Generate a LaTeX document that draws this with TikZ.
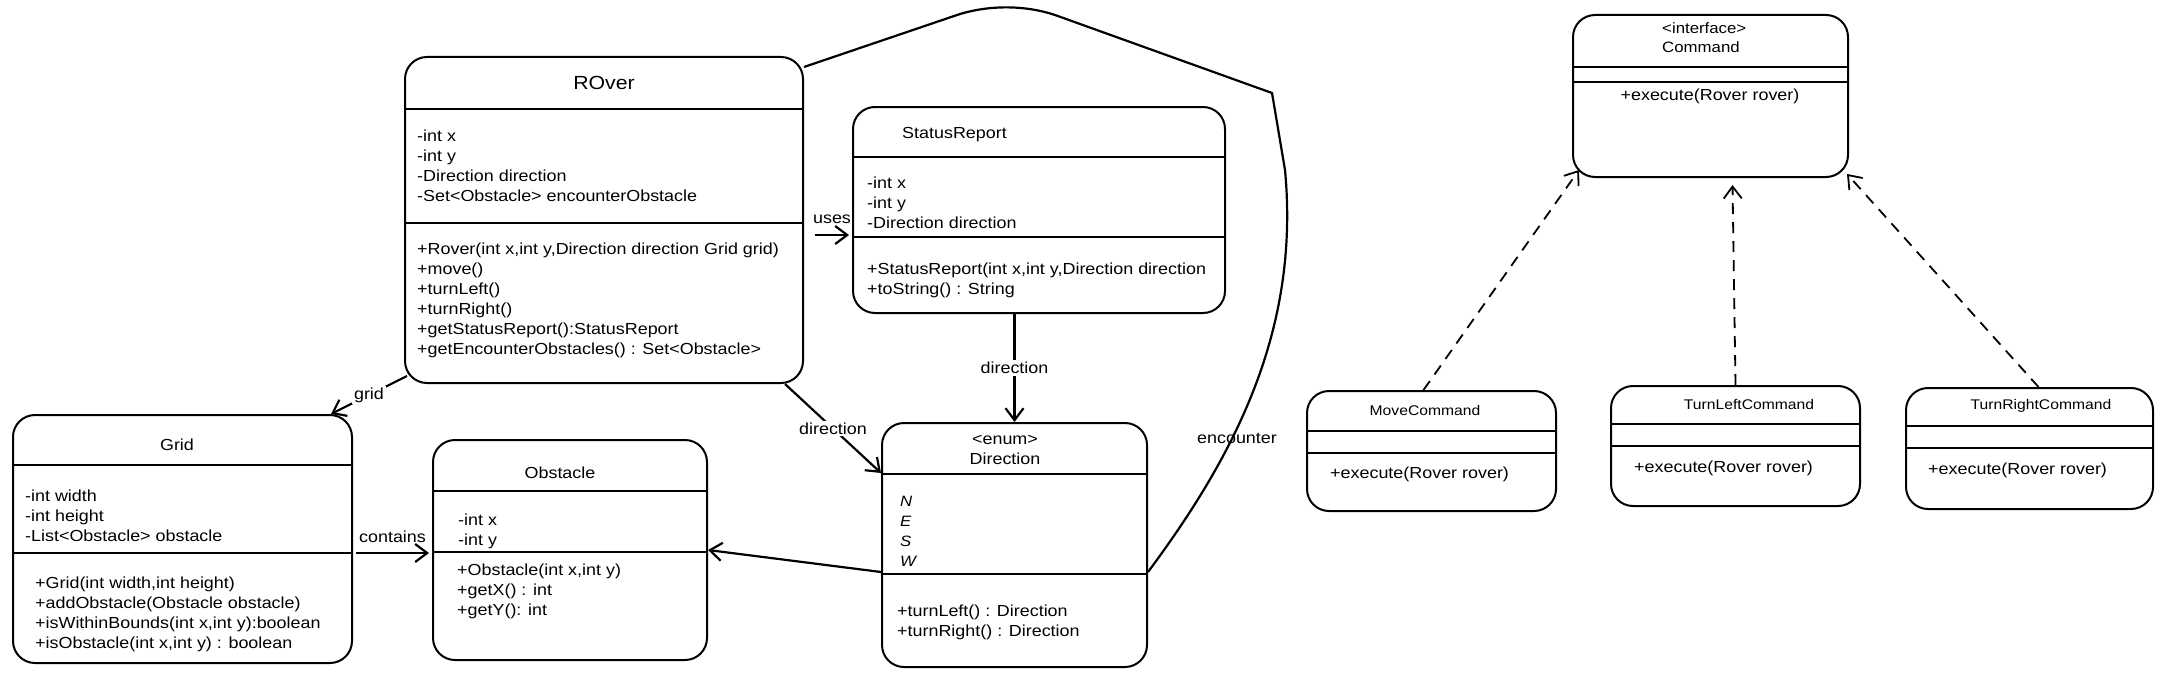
\documentclass[tikz,border=0pt]{standalone}
\usepackage{fontspec}
\setmainfont{Liberation Sans}[FakeStretch=1.12]
\usepackage{tikz}
\usetikzlibrary{arrows.meta,positioning}

\begin{document}
\begin{tikzpicture}[x=1pt, y=-1pt, >={Straight Barb[length=12pt,width=18pt]},
    every node/.style={font=\fontsize{16}{20}\selectfont, inner sep=0pt},
    classbox/.style={draw, line width=2pt, rounded corners=22pt},
    sepline/.style={line width=2.2pt},
    members/.style={anchor=north west, align=left},
    assoc/.style={line width=2.2pt, ->},
    realize/.style={line width=1.8pt, ->, dash pattern=on 11pt off 8pt},
    lbl/.style={fill=white, inner sep=2pt}]
  \useasboundingbox (0,0) rectangle (2167,677);

  % class boxes
  \node[classbox, minimum width=398pt, minimum height=326pt] (rover) at (604,220) {};
  \node[classbox, minimum width=372pt, minimum height=206pt] (status) at (1039,210) {};
  \node[classbox, minimum width=339pt, minimum height=248pt] (grid) at (182.5,539) {};
  \node[classbox, minimum width=274pt, minimum height=220pt] (obstacle) at (570,550) {};
  \node[classbox, minimum width=265pt, minimum height=244pt] (direction) at (1014.5,545) {};
  \node[classbox, minimum width=275pt, minimum height=162pt] (command) at (1710.5,96) {};
  \node[classbox, minimum width=249pt, minimum height=120pt] (move) at (1431.5,451) {};
  \node[classbox, minimum width=249pt, minimum height=120pt] (turnleft) at (1735.5,446) {};
  \node[classbox, minimum width=247pt, minimum height=121pt] (turnright) at (2029.5,448.5) {};

  % compartment lines
  \foreach \n/\y in {rover/109, rover/223, status/157, status/237, grid/465, grid/553,
      obstacle/491, obstacle/552, direction/474, direction/574, command/67, command/82,
      move/431, move/453, turnleft/424, turnleft/446, turnright/426, turnright/448}
    \draw[sepline] (\n.west |- 0,\y) -- (\n.east |- 0,\y);

  % Rover
  \node[font=\fontsize{19}{22}\selectfont] (roverT) at (604,83) {ROver};
  \node[members] (roverA) at (417,130) {-int x\\-int y\\-Direction direction\\-Set<Obstacle> encounterObstacle};
  \node[members] (roverM) at (417,243) {+Rover(int x,int y,Direction direction Grid grid)\\+move()\\+turnLeft()\\+turnRight()\\+getStatusReport():StatusReport\\+getEncounterObstacles() : Set<Obstacle>};

  % StatusReport
  \node[anchor=west] (statusT) at (902,135) {StatusReport};
  \node[members] (statusA) at (867,177) {-int x\\-int y\\-Direction direction};
  \node[members] (statusM) at (867,263) {+StatusReport(int x,int y,Direction direction\\+toString() : String};

  % Grid
  \node (gridT) at (177,445) {Grid};
  \node[members] (gridA) at (25,490) {-int width\\-int height\\-List<Obstacle> obstacle};
  \node[members] (gridM) at (35,577) {+Grid(int width,int height)\\+addObstacle(Obstacle obstacle)\\+isWithinBounds(int x,int y):boolean\\+isObstacle(int x,int y) : boolean};

  % Obstacle
  \node (obstacleT) at (560,473) {Obstacle};
  \node[members] (obstacleA) at (458,514) {-int x\\-int y};
  \node[members] (obstacleM) at (457,564) {+Obstacle(int x,int y)\\+getX() : int\\+getY(): int};

  % Direction
  \node[align=center] (directionT) at (1005,450) {<enum>\\Direction};
  \node[members, font=\itshape\fontsize{15}{20}\selectfont] (directionA) at (900,496) {N\\E\\S\\W};
  \node[members] (directionM) at (897,605) {+turnLeft() : Direction\\+turnRight() : Direction};

  % Command and its implementations
  \node[members, font=\fontsize{15}{19}\selectfont] (commandT) at (1662,22) {<interface>\\Command};
  \node (commandM) at (1710,96) {+execute(Rover rover)};
  \node[font=\fontsize{14}{18}\selectfont] (moveT) at (1425,410) {MoveCommand};
  \node[anchor=west] (moveM) at (1330,474) {+execute(Rover rover)};
  \node[font=\fontsize{14}{18}\selectfont] (turnleftT) at (1749,404) {TurnLeftCommand};
  \node[anchor=west] (turnleftM) at (1634,468) {+execute(Rover rover)};
  \node[font=\fontsize{14}{18}\selectfont] (turnrightT) at (2041,406) {TurnRightCommand};
  \node[anchor=west] (turnrightM) at (1928,470) {+execute(Rover rover)};

  % associations
  \draw[assoc] ([shift={(11pt,-15pt)}]rover.east) -- node[above=10pt] (usesL) {uses} ([shift={(-3pt,-25pt)}]status.west);
  \draw[assoc] ([shift={(3pt,8pt)}]rover.south west) -- node[lbl] (gridL) {grid} ([xshift=-22pt]grid.north east);
  \draw[assoc] ([xshift=-19pt]rover.south east) -- node[lbl] (dirL) {direction} ([yshift=-51pt]direction.north west);
  \draw[assoc] (direction.north |- status.south) -- node[lbl] (dirL2) {direction} (direction.north);
  \draw[assoc] ([shift={(3pt,-14pt)}]grid.east) -- node[above=9pt] (containsL) {contains} ([shift={(-3pt,-3pt)}]obstacle.west);
  \draw[assoc] ([yshift=-27pt]direction.west) -- (obstacle.east);

  % encounter
  \draw[line width=2.2pt] ([yshift=-27pt]direction.east)
    .. controls (1235,455) and (1300,330) .. (1285,170) -- (1272,93)
    -- (1055,15) .. controls (1025,5) and (990,5) .. (960,14)
    -- ([yshift=-11pt]rover.north east);
  \node (encL) at (1237,438) {encounter};

  % realizations
  \draw[realize] ([xshift=-8pt]move.north) -- ([shift={(7pt,8pt)}]command.south west);
  \draw[realize] (turnleft.north) -- ([shift={(22pt,-7pt)}]command.south);
  \draw[realize] ([xshift=9pt]turnright.north) -- ([shift={(-2pt,4pt)}]command.south east);

\end{tikzpicture}
\end{document}
